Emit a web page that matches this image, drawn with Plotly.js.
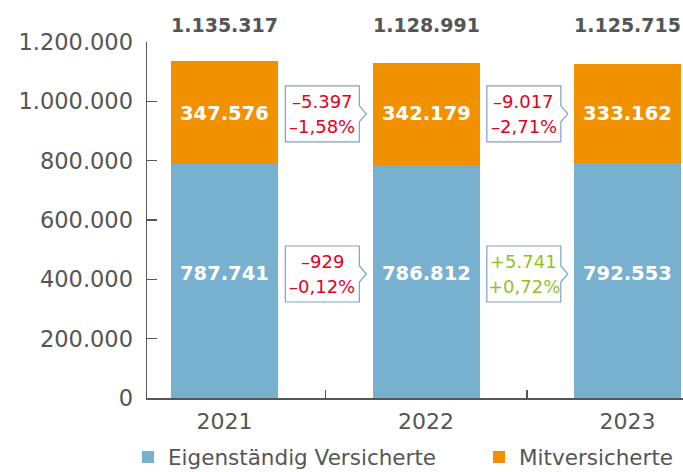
<!DOCTYPE html>
<html>
<head>
<meta charset="utf-8">
<script src="https://cdn.plot.ly/plotly-3.0.1.min.js"></script>
<style>html,body{margin:0;padding:0;background:#fff;}#chart{width:683px;height:472px;}</style>
</head>
<body>
<div id="chart"></div>
<script>
// ---- data ----
const years = ['2021', '2022', '2023'];
const eigenstaendig = [787741, 786812, 792553];
const mitversichert = [347576, 342179, 333162];
const totals = [1135317, 1128991, 1125715];
const seriesNames = ['Eigenständig Versicherte', 'Mitversicherte'];
const changeMit = ['–5.397', '–9.017'];
const changeMitPct = ['–1,58%', '–2,71%'];
const changeEig = ['–929', '+5.741'];
const changeEigPct = ['–0,12%', '+0,72%'];
const yTickVals = [0, 200000, 400000, 600000, 800000, 1000000, 1200000];

// ---- style ----
const FONT = 'DejaVu Sans';
const GREY = '#555555';
const BLUE = '#78b0cf';
const ORANGE = '#f29100';
const RED = '#e3001b';
const GREEN = '#95c11f';
const BOXLINE = '#7ba3c8';
const UPPER_Y = 958000;
const LOWER_Y = 418000;

function fmt(v) { return v.toString().replace(/\B(?=(\d{3})+(?!\d))/g, '.'); }

const traces = [
  { type: 'bar', x: years, y: eigenstaendig, name: seriesNames[0], marker: { color: BLUE }, width: 0.531, hoverinfo: 'none', legend: 'legend' },
  { type: 'bar', x: years, y: mitversichert, name: seriesNames[1], marker: { color: ORANGE }, width: 0.531, hoverinfo: 'none', legend: 'legend2' }
];

const annotations = [];
const shapes = [];
years.forEach((yr, i) => {
  annotations.push({ x: i, y: 1, yref: 'paper', yshift: 17, yanchor: 'middle', showarrow: false,
    text: '<b>' + fmt(totals[i]) + '</b>', font: { family: FONT, size: 19, color: GREY } });
  annotations.push({ x: i, y: UPPER_Y, yanchor: 'middle', showarrow: false,
    text: '<b>' + fmt(mitversichert[i]) + '</b>', font: { family: FONT, size: 19.5, color: '#ffffff' } });
  annotations.push({ x: i, y: LOWER_Y, yanchor: 'middle', showarrow: false,
    text: '<b>' + fmt(eigenstaendig[i]) + '</b>', font: { family: FONT, size: 19.5, color: '#ffffff' } });
});

function callout(xpos, ylev, l1, l2, color) {
  shapes.push({ type: 'path', xref: 'x', yref: 'y', xsizemode: 'pixel', ysizemode: 'pixel',
    xanchor: xpos, yanchor: ylev,
    path: 'M-40,28 L34,28 L34,8 L41,0 L34,-8 L34,-28 L-40,-28 Z',
    fillcolor: '#ffffff', line: { color: BOXLINE, width: 1.2 }, layer: 'above' });
  annotations.push({ x: xpos, y: ylev, xshift: -3, yshift: 12, yanchor: 'middle', showarrow: false,
    text: l1, font: { family: FONT, size: 18, color: color } });
  annotations.push({ x: xpos, y: ylev, xshift: -3, yshift: -13, yanchor: 'middle', showarrow: false,
    text: l2, font: { family: FONT, size: 18, color: color } });
}
for (let k = 0; k < 2; k++) {
  const xm = k + 0.5;
  callout(xm, UPPER_Y, changeMit[k], changeMitPct[k], changeMit[k].startsWith('+') ? GREEN : RED);
  callout(xm, LOWER_Y, changeEig[k], changeEigPct[k], changeEig[k].startsWith('+') ? GREEN : RED);
}

const legendBase = { orientation: 'h', xref: 'container', yref: 'container', y: 15 / 472,
  xanchor: 'left', yanchor: 'middle', font: { family: FONT, size: 21.5, color: GREY },
  bgcolor: 'rgba(0,0,0,0)' };

const layout = {
  width: 683, height: 472,
  margin: { l: 147, r: 0, t: 42, b: 74, pad: 0 },
  paper_bgcolor: '#ffffff', plot_bgcolor: '#ffffff',
  barmode: 'stack',
  separators: ',.',
  font: { family: FONT, color: GREY },
  showlegend: true,
  legend: Object.assign({}, legendBase, { x: 128 / 683 }),
  legend2: Object.assign({}, legendBase, { x: 479 / 683 }),
  xaxis: { type: 'category', range: [-0.385, 2.275], showgrid: false, zeroline: false,
    showline: true, linecolor: GREY, linewidth: 1.5, ticks: 'inside', tickson: 'boundaries',
    ticklen: 8, tickwidth: 1.5, tickcolor: GREY, ticklabelstandoff: 3,
    tickfont: { family: FONT, size: 22, color: GREY }, fixedrange: true },
  yaxis: { range: [0, 1200000], showgrid: false, zeroline: false, showline: true, linecolor: GREY,
    linewidth: 1.5, ticks: 'inside', ticklen: 10, tickwidth: 1.5, tickcolor: GREY,
    tickvals: yTickVals, tickformat: ',d', ticklabelstandoff: 8,
    tickfont: { family: FONT, size: 22.5, color: GREY }, fixedrange: true },
  annotations: annotations,
  shapes: shapes
};

Plotly.newPlot('chart', traces, layout, { displayModeBar: false, staticPlot: true });
</script>
</body>
</html>
